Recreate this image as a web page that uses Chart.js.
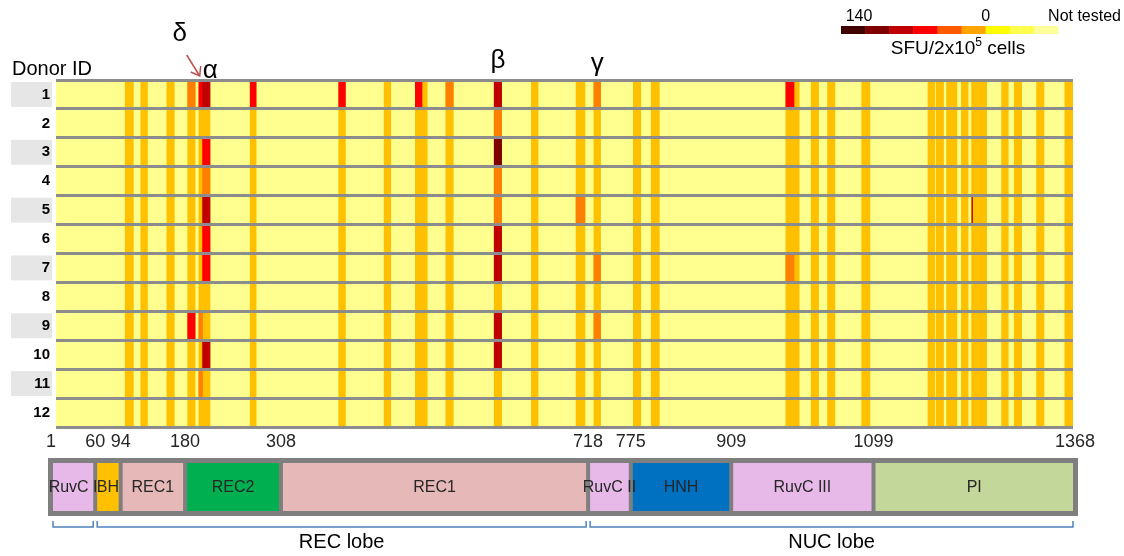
<!DOCTYPE html>
<html>
<head>
<meta charset="utf-8">
<script src="https://cdn.jsdelivr.net/npm/chart.js@4.4.1/dist/chart.umd.min.js"></script>
<style>
  body { margin: 0; background: #fff; }
  #wrap { position: relative; width: 1124px; height: 556px; }
  canvas { position: absolute; left: 0; }
</style>
</head>
<body>
<div id="wrap">
  <canvas id="heat" width="1124" height="445" style="top:0"></canvas>
  <canvas id="domains" width="1124" height="126" style="top:430px"></canvas>
</div>
<script>
const donors = ['1', '2', '3', '4', '5', '6', '7', '8', '9', '10', '11', '12'];
const residueMin = 1;
const residueMax = 1368;

// tested peptides (residue ranges)
const peptideStart = [94, 115, 150, 178, 193, 198, 262, 381, 442, 484, 493, 525, 590, 640, 700, 724, 777, 801,
  982, 993, 1016, 1038, 1084, 1173, 1184, 1198, 1218, 1232, 1232, 1272, 1289, 1319, 1357];
const peptideEnd = [105, 124, 160, 188, 198, 208, 270, 390, 451, 493, 500, 535, 600, 649, 712, 733, 787, 812,
  993, 1000, 1026, 1048, 1095, 1182, 1194, 1212, 1227, 1252, 1233, 1281, 1299, 1329, 1368];

// positive responses: donor, peptide number, SFU
const respDonor = [1, 1, 1, 1, 1, 1, 1, 1, 1, 1, 2, 3, 3, 4, 4, 5, 5, 5, 5, 6, 6, 7, 7, 7, 7, 9, 9, 9, 9, 10, 10, 11];
const respPeptide = [4, 5, 6, 7, 8, 10, 12, 13, 16, 19, 13, 6, 13, 6, 13, 6, 13, 15, 29, 6, 13, 6, 13, 16, 19, 4, 5, 13, 16, 6, 13, 5];
const respSfu = [25, 55, 90, 55, 55, 55, 25, 90, 25, 55, 25, 55, 130, 25, 25, 90, 25, 25, 90, 55, 90, 55, 90, 25, 25, 55, 25, 90, 25, 90, 90, 25];

const sfuBreaks = [35, 70, 105, 140];
const sfuColors = ['#FF8000', '#FF0000', '#C00000', '#7F0000'];
const zeroColor = '#FFC000';
const notTestedColor = '#FFFF8F';
const legendColors = ['#3F0000', '#7F0000', '#C00000', '#FF0000', '#FF5A00', '#FFA500', '#FFFF00', '#FFFF4D', '#FFFF99'];

const markerText = ['δ', 'α', 'β', 'γ'];
const markerPeptide = [5, 6, 13, 16];

const domainNames = ['RuvC I', 'BH', 'REC1', 'REC2', 'REC1', 'RuvC II', 'HNH', 'RuvC III', 'PI'];
const domainStart = [1, 60, 94, 180, 308, 718, 775, 909, 1099];
const domainEnd = [60, 94, 180, 308, 718, 775, 909, 1099, 1368];
const domainColors = ['#E6B9E8', '#FFC000', '#E6B8B7', '#00B050', '#E6B8B7', '#E6B9E8', '#0070C0', '#E6B9E8', '#C4D79B'];
const tickValues = [1, 60, 94, 180, 308, 718, 775, 909, 1099, 1368];

const lobeNames = ['', 'REC lobe', 'NUC lobe'];
const lobeStart = [1, 60, 718];
const lobeEnd = [60, 718, 1368];

const sans = '"Liberation Sans", Arial, sans-serif';
const narrow = '"Liberation Sans Narrow", "Liberation Sans", Arial, sans-serif';

function sfuColor(v) {
  if (v <= 0) return zeroColor;
  for (let i = 0; i < sfuBreaks.length; i++) {
    if (v <= sfuBreaks[i]) return sfuColors[i];
  }
  return sfuColors[sfuColors.length - 1];
}

// grey boxes behind odd donor labels, drawn before the axis labels
const rowBoxes = {
  id: 'rowBoxes',
  beforeDraw(chart) {
    const {ctx} = chart;
    const y = chart.scales.y;
    const h = y.getPixelForValue(1) - y.getPixelForValue(0);
    ctx.save();
    ctx.fillStyle = '#E6E6E6';
    donors.forEach((d, i) => {
      if (i % 2 == 0) {
        const c = y.getPixelForValue(i);
        ctx.fillRect(11, c - h / 2 + 2, 41, h - 4);
      }
    });
    ctx.restore();
  }
};

const heatNotes = {
  id: 'heatNotes',
  afterDraw(chart) {
    const {ctx} = chart;
    const x = chart.scales.x;
    ctx.save();
    ctx.fillStyle = '#000';
    ctx.textBaseline = 'alphabetic';
    ctx.textAlign = 'left';
    ctx.font = '20px ' + sans;
    ctx.fillText('Donor ID', 12, 75);

    // peptide markers
    const baseY = [41, 78, 68, 71];
    ctx.font = '26px ' + sans;
    ctx.textAlign = 'center';
    markerText.forEach((t, i) => {
      const p = markerPeptide[i] - 1;
      const cx = x.getPixelForValue((peptideStart[p] + peptideEnd[p]) / 2);
      if (i == 0) {
        // delta sits above, with an arrow down to its peptide
        const tipX = cx - 1, tipY = 76;
        ctx.fillText(t, tipX - 20, baseY[i]);
        ctx.strokeStyle = '#C0504D';
        ctx.lineWidth = 1.5;
        ctx.beginPath();
        ctx.moveTo(tipX - 13, tipY - 21);
        ctx.lineTo(tipX, tipY);
        ctx.stroke();
        ctx.beginPath();
        ctx.moveTo(tipX - 9, tipY - 4);
        ctx.lineTo(tipX, tipY);
        ctx.lineTo(tipX + 1, tipY - 10);
        ctx.stroke();
      } else {
        ctx.fillText(t, cx + (i == 1 ? 4 : 0), baseY[i]);
      }
    });

    // colour key
    const kx = 841, kw = (1058 - 841) / legendColors.length;
    legendColors.forEach((c, i) => {
      ctx.fillStyle = c;
      ctx.fillRect(kx + i * kw, 26, kw + 0.5, 8);
    });
    ctx.fillStyle = '#000';
    ctx.font = '16px ' + sans;
    ctx.textAlign = 'center';
    ctx.fillText('140', kx + 18, 21);
    ctx.fillText('0', kx + kw * 6, 21);
    ctx.textAlign = 'right';
    ctx.fillText('Not tested', 1121, 21);
    ctx.textAlign = 'left';
    const a = 'SFU/2x10', b = ' cells';
    ctx.font = '19px ' + sans;
    const wa = ctx.measureText(a).width, wb = ctx.measureText(b).width;
    ctx.font = '12px ' + sans;
    const ws = ctx.measureText('5').width;
    let sx = 958 - (wa + ws + wb) / 2;
    ctx.font = '19px ' + sans;
    ctx.fillText(a, sx, 54);
    ctx.font = '12px ' + sans;
    ctx.fillText('5', sx + wa, 46);
    ctx.font = '19px ' + sans;
    ctx.fillText(b, sx + wa + ws, 54);
    ctx.restore();
  }
};

new Chart(document.getElementById('heat'), {
  type: 'bar',
  data: {
    labels: donors,
    datasets: [
      {
        label: 'SFU',
        data: respDonor.map((d, i) => ({x: [peptideStart[respPeptide[i] - 1], peptideEnd[respPeptide[i] - 1]], y: String(d)})),
        backgroundColor: respSfu.map(sfuColor)
      },
      {
        label: 'tested',
        data: donors.flatMap(d => peptideStart.map((s, j) => ({x: [s, peptideEnd[j]], y: d}))),
        backgroundColor: zeroColor
      },
      {
        label: 'not tested',
        data: donors.map(d => ({x: [residueMin, residueMax], y: d})),
        backgroundColor: notTestedColor
      }
    ]
  },
  options: {
    indexAxis: 'y',
    responsive: false,
    animation: false,
    events: [],
    layout: {padding: {top: 80, right: 51, bottom: 18, left: 0}},
    datasets: {bar: {grouped: false, barPercentage: 1, categoryPercentage: 1, borderWidth: 0}},
    plugins: {legend: {display: false}, tooltip: {enabled: false}},
    scales: {
      x: {type: 'linear', min: residueMin, max: residueMax, display: false},
      y: {
        type: 'category',
        grid: {offset: true, color: '#8C8C8C', lineWidth: 3, drawTicks: false, z: 1},
        border: {display: false},
        ticks: {autoSkip: false, color: '#000', padding: 6, font: {family: sans, size: 15, weight: 'bold'}},
        afterFit(s) { s.width = 56; }
      }
    }
  },
  plugins: [rowBoxes, heatNotes]
});

const domainNotes = {
  id: 'domainNotes',
  afterDraw(chart) {
    const {ctx} = chart;
    const x = chart.scales.x;
    const meta = chart.getDatasetMeta(0);
    ctx.save();
    ctx.fillStyle = '#262626';
    ctx.font = '16px ' + narrow;
    ctx.textAlign = 'center';
    ctx.textBaseline = 'middle';
    meta.data.forEach((el, i) => {
      const p = el.getProps(['x', 'base', 'y'], true);
      ctx.fillText(domainNames[i], (p.x + p.base) / 2, p.y + 1);
    });

    // lobe brackets
    ctx.strokeStyle = '#4F81BD';
    ctx.lineWidth = 1.5;
    ctx.fillStyle = '#000';
    ctx.font = '20px ' + sans;
    ctx.textBaseline = 'alphabetic';
    lobeNames.forEach((n, i) => {
      const x1 = x.getPixelForValue(lobeStart[i]) + 2;
      const x2 = x.getPixelForValue(lobeEnd[i]) - 2;
      ctx.beginPath();
      ctx.moveTo(x1, 91);
      ctx.lineTo(x1, 97);
      ctx.lineTo(x2, 97);
      ctx.lineTo(x2, 91);
      ctx.stroke();
      if (n) ctx.fillText(n, (x1 + x2) / 2, 118);
    });
    ctx.restore();
  }
};

new Chart(document.getElementById('domains'), {
  type: 'bar',
  data: {
    labels: ['Cas9'],
    datasets: [
      {
        label: 'domains',
        data: domainStart.map((s, i) => ({x: [s, domainEnd[i]], y: 'Cas9'})),
        backgroundColor: domainColors,
        borderColor: '#7F7F7F',
        borderWidth: 2,
        borderSkipped: false,
        inflateAmount: 0,
        clip: 10
      },
      {
        label: 'frame',
        data: [{x: [residueMin, residueMax], y: 'Cas9'}],
        backgroundColor: '#7F7F7F',
        borderWidth: 0,
        inflateAmount: 3,
        clip: 10
      }
    ]
  },
  options: {
    indexAxis: 'y',
    responsive: false,
    animation: false,
    events: [],
    layout: {padding: {top: 0, right: 49, bottom: 43, left: 51}},
    datasets: {bar: {grouped: false, barThickness: 52}},
    plugins: {legend: {display: false}, tooltip: {enabled: false}},
    scales: {
      x: {
        type: 'linear',
        position: 'top',
        min: residueMin,
        max: residueMax,
        grid: {display: false},
        border: {display: false},
        ticks: {
          autoSkip: false, maxRotation: 0, padding: 0, color: '#262626',
          font: {family: narrow, size: 18},
          callback: v => String(v)
        },
        afterBuildTicks(s) { s.ticks = tickValues.map(v => ({value: v})); },
        afterFit(s) { s.height = 31; }
      },
      y: {display: false}
    }
  },
  plugins: [domainNotes]
});
</script>
</body>
</html>
